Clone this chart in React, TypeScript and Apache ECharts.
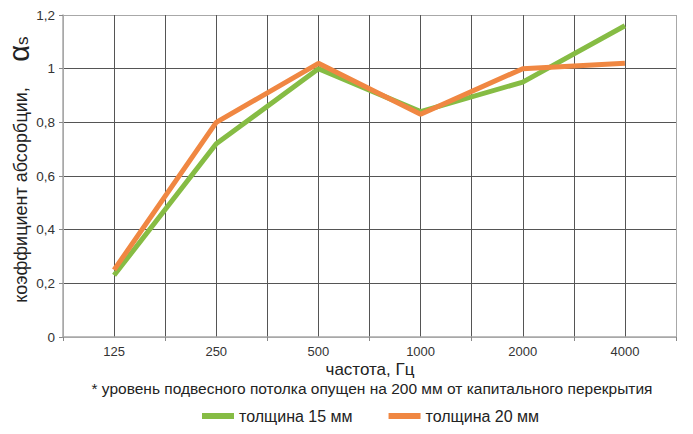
import React, { useEffect, useRef } from "react";
import * as echarts from "echarts";

const categories = ["125", "250", "500", "1000", "2000", "4000"];
const thickness15 = [0.23, 0.72, 1.0, 0.84, 0.95, 1.16];
const thickness20 = [0.25, 0.8, 1.02, 0.83, 1.0, 1.02];
const seriesNames = ["толщина 15 мм", "толщина 20 мм"];
const yTitle = "коэффициент абсорбции,";
const xTitle = "частота, Гц";
const footnote = "* уровень подвесного потолка опущен на 200 мм от капитального перекрытия";
const halfCategories = categories.flatMap((c) => [c + "a", c + "b"]);

const FONT = "'Liberation Sans', Arial, sans-serif";
const LIGHT = "#a8a8a8";
const DARK = "#555555";

export default function App() {
  const ref = useRef<HTMLDivElement>(null);
  useEffect(() => {
    if (!ref.current) return;
    const chart = echarts.init(ref.current, null, { renderer: "svg" });
    const yLineColors = [LIGHT, DARK, DARK, DARK, DARK, DARK, LIGHT];
    const xLineColors = halfCategories.map(() => DARK).concat([LIGHT]);
    xLineColors[0] = LIGHT;
    chart.setOption({
      animation: false,
      backgroundColor: "#ffffff",
      textStyle: { fontFamily: FONT },
      grid: { left: 63, right: 17, top: 15, bottom: 97, containLabel: false },
      legend: {
        left: 197,
        top: 403,
        itemWidth: 32,
        itemHeight: 6,
        itemGap: 36,
        icon: "rect",
        textStyle: { fontSize: 16, color: "#222", fontFamily: FONT },
        data: seriesNames,
      },
      xAxis: [
        {
          type: "category",
          data: categories,
          boundaryGap: true,
          axisLine: { show: true, lineStyle: { color: LIGHT, width: 1.5 } },
          axisTick: { show: true, length: 4, lineStyle: { color: "#888" } },
          axisLabel: { fontSize: 13, color: "#333", margin: 8, fontFamily: FONT },
          splitLine: { show: false },
          z: 3,
        },
        {
          type: "category",
          data: halfCategories,
          boundaryGap: true,
          position: "bottom",
          axisLine: { show: false },
          axisTick: { show: false },
          axisLabel: { show: false },
          splitLine: { show: true, lineStyle: { color: xLineColors, width: 1 } },
        },
      ],
      yAxis: {
        type: "value",
        min: 0,
        max: 1.2,
        interval: 0.2,
        axisLine: { show: true, lineStyle: { color: LIGHT, width: 1.5 } },
        axisTick: { show: true, length: 4, lineStyle: { color: "#888" } },
        axisLabel: {
          fontSize: 13.5,
          color: "#333",
          margin: 8,
          fontFamily: FONT,
          formatter: (v: number) => String(Math.round(v * 10) / 10).replace(".", ","),
        },
        splitLine: { show: true, lineStyle: { color: yLineColors, width: 1 } },
      },
      series: [
        {
          name: seriesNames[0],
          type: "line",
          data: thickness15,
          xAxisIndex: 0,
          symbol: "none",
          lineStyle: { width: 5, color: "#86bc44" },
          itemStyle: { color: "#86bc44" },
          z: 4,
        },
        {
          name: seriesNames[1],
          type: "line",
          data: thickness20,
          xAxisIndex: 0,
          symbol: "none",
          lineStyle: { width: 5, color: "#f08742" },
          itemStyle: { color: "#f08742" },
          z: 5,
        },
      ],
      graphic: [
        {
          type: "text",
          x: 21,
          y: 195,
          rotation: Math.PI / 2,
          style: {
            text: yTitle,
            font: `18px ${FONT}`,
            fill: "#222",
            align: "center",
            verticalAlign: "middle",
          },
        },
        {
          type: "text",
          x: 19,
          y: 49,
          rotation: Math.PI / 2,
          style: {
            text: "{a|α}{b|s}",
            fill: "#222",
            align: "center",
            verticalAlign: "middle",
            rich: {
              a: { fontSize: 29, fontFamily: FONT, fill: "#222" },
              b: { fontSize: 17, fontFamily: FONT, fill: "#222", padding: [6, 0, 0, 0] },
            },
          },
        },
        {
          type: "text",
          x: 370,
          y: 369,
          style: {
            text: xTitle,
            font: `17px ${FONT}`,
            fill: "#222",
            align: "center",
            verticalAlign: "middle",
          },
        },
        {
          type: "text",
          x: 372,
          y: 388,
          style: {
            text: footnote,
            font: `15.5px ${FONT}`,
            fill: "#222",
            align: "center",
            verticalAlign: "middle",
          },
        },
      ],
    });
    return () => chart.dispose();
  }, []);
  return (
    <div
      ref={ref}
      style={{ position: "fixed", left: 0, top: 0, width: 693, height: 434 }}
    />
  );
}
